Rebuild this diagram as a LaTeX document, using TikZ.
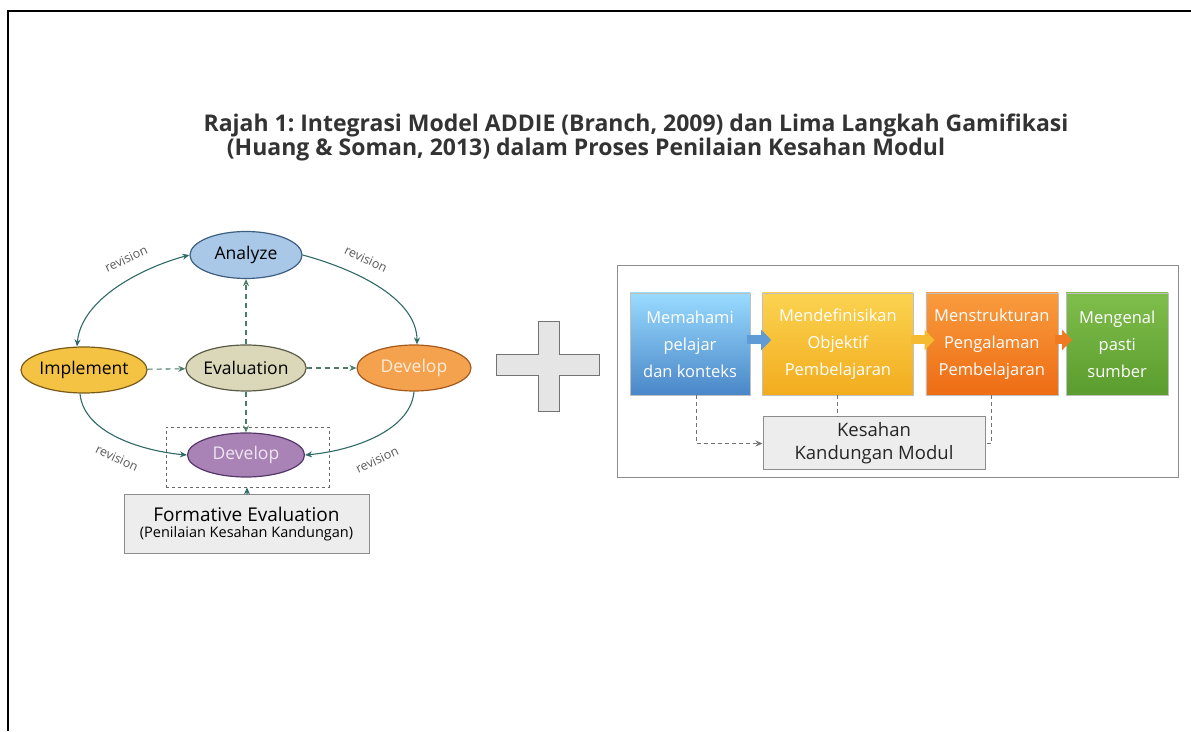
\documentclass[tikz,border=0pt]{standalone}
\usepackage{fontspec}
\setmainfont{Open Sans}
\usetikzlibrary{positioning,arrows.meta,shapes.geometric}
\definecolor{anaFill}{HTML}{A9C7E6}
\definecolor{anaDraw}{HTML}{3F5F80}
\definecolor{impFill}{HTML}{F4C343}
\definecolor{impDraw}{HTML}{7A5A18}
\definecolor{evaFill}{HTML}{DAD8B8}
\definecolor{evaDraw}{HTML}{5A5A48}
\definecolor{devFill}{HTML}{F5A24E}
\definecolor{devDraw}{HTML}{A45A1C}
\definecolor{purFill}{HTML}{A983B6}
\definecolor{purDraw}{HTML}{553668}
\definecolor{arrCol}{HTML}{2F6A66}
\definecolor{dashCol}{HTML}{4A7C66}
\frenchspacing
\tikzset{phase/.style={ellipse,draw,line width=1.2pt,inner sep=0pt,minimum width=114pt,minimum height=46pt,
		font=\fontsize{17.5}{20}\selectfont},
	 revarr/.style={draw=arrCol,line width=1.1pt,-{Stealth[length=7pt,width=6pt]}},
	 evarr/.style={draw=dashCol,line width=1.1pt,dash pattern=on 5pt off 4pt,-{Stealth[length=7pt,width=6pt]}},
	 revlabel/.style={font=\fontsize{12.5}{14}\selectfont,text=black!65,inner sep=0pt},
	 stepbox/.style={draw=black!25,minimum height=102pt,inner sep=0pt,align=center,text=white,
		font=\fontsize{16.5}{27}\selectfont},
	 blockarr/.style={line width=9pt,-{Triangle[width=20pt,length=10pt]},shorten <=-3pt,shorten >=-9pt},
	 kdash/.style={draw=black!55,line width=1pt,dash pattern=on 4pt off 3pt},
	 greybox/.style={draw=black!45,fill=black!7,line width=1pt,align=center,inner sep=0pt},
	 title/.style={anchor=base,text=black!80,font=\fontsize{23}{26}\selectfont\bfseries},
	 node distance = 12pt
	 }
\begin{document}
\begin{tikzpicture}[x=1pt,y=1pt]
	\useasboundingbox (0,0) rectangle (1191,731);
	\draw[line width=2.5pt] (1191,720) -- (8,720) -- (8,0);

	\node[title] (t1) at (636,599) {Rajah 1: Integrasi Model ADDIE (Branch, 2009) dan Lima Langkah Gamifikasi};
	\node[title] (t2) at (586,575) {(Huang \& Soman, 2013) dalam Proses Penilaian Kesahan Modul};

	% ADDIE
	\node[phase,fill=anaFill,draw=anaDraw,minimum width=112pt,minimum height=47pt] (ana) at (246,476) {Analyze};
	\node[phase,fill=impFill,draw=impDraw,minimum width=118pt] (imp) at (84,361) {Implement};
	\node[phase,fill=evaFill,draw=evaDraw,minimum width=112pt] (eva) at (246,363) {Evaluation};
	\node[phase,fill=devFill,draw=devDraw,text=orange!15] (dev) at (414,363) {Develop};
	\node[phase,fill=purFill,draw=purDraw,text=purFill!20,minimum width=117pt,minimum height=44pt] (pur) at (246,276) {Develop};
	\node[draw=black!60,dashed,line width=0.9pt,minimum width=163pt,minimum height=60pt] (fe) at (247.5,274) {};
	\node[greybox,minimum width=245pt,minimum height=59pt] (form) at (246.5,206.5)
		{\fontsize{19}{24}\selectfont Formative Evaluation\\[4pt]\fontsize{14.5}{16}\selectfont (Penilaian Kesahan Kandungan)};

	\draw[revarr,{Stealth[length=7pt,width=6pt]}-{Stealth[length=7pt,width=6pt]}] ([xshift=-7pt]imp.north) to[out=85,in=195,looseness=0.85] (ana.west);
	\draw[revarr] (ana.east) to[out=-15,in=90,looseness=0.85] ([xshift=3pt]dev.north);
	\draw[revarr] ([xshift=-4pt]imp.south) to[out=-85,in=175,looseness=0.85] (pur.west);
	\draw[revarr] (dev.south) to[out=-95,in=5,looseness=0.85] (pur.east);
	\node[revlabel,rotate=25] (r1) at (126,472) {revision};
	\node[revlabel,rotate=-25] (r2) at (366,472) {revision};
	\node[revlabel,rotate=-25] (r3) at (117,273) {revision};
	\node[revlabel,rotate=25] (r4) at (377,271) {revision};

	\draw[evarr] (eva) -- (ana);
	\draw[evarr] (eva) -- (pur);
	\draw[evarr] (imp) -- (eva);
	\draw[evarr] (eva) -- (dev);
	\draw[revarr] (form) -- (fe);

	% plus
	\draw[draw=black!55,fill=black!10,line width=1pt] (538,409) -- (559,409) -- (559,376) -- (599,376) -- (599,355)
		-- (559,355) -- (559,319) -- (538,319) -- (538,355) -- (496,355) -- (496,376) -- (538,376) -- cycle;

	% gamifikasi
	\node[draw=black!45,line width=1pt,minimum width=561pt,minimum height=212pt] (gam) at (897.5,359) {};
	\node[stepbox,top color=blue!35!cyan!40!white,bottom color={rgb,255:red,74;green,134;blue,200},minimum width=120pt] (s1) at (690,387) {Memahami\\pelajar\\dan konteks};
	\node[stepbox,top color={rgb,255:red,251;green,211;blue,80},bottom color={rgb,255:red,242;green,172;blue,30},minimum width=151pt] (s2) [right=of s1] {Mendefinisikan\\Objektif\\Pembelajaran};
	\node[stepbox,top color={rgb,255:red,248;green,156;blue,62},bottom color={rgb,255:red,238;green,108;blue,20},minimum width=132pt] (s3) [right=of s2] {Menstrukturan\\Pengalaman\\Pembelajaran};
	\node[stepbox,top color={rgb,255:red,128;green,190;blue,76},bottom color={rgb,255:red,90;green,156;blue,46},minimum width=102pt] (s4) [right=8pt of s3] {Mengenal\\pasti\\sumber};
	\node[greybox,font=\fontsize{18.5}{23}\selectfont,text=black!85,minimum width=222pt,minimum height=53pt] (kes) at (874,287.5) {Kesahan\\Kandungan Modul};

	\draw[blockarr,draw={rgb,255:red,96;green,155;blue,214}] ([yshift=4pt]s1.east) -- ([yshift=4pt]s2.west);
	\draw[blockarr,draw={rgb,255:red,245;green,186;blue,50}] ([yshift=4pt]s2.east) -- ([yshift=4pt]s3.west);
	\draw[blockarr,draw={rgb,255:red,240;green,122;blue,34},shorten >=-6pt] ([yshift=4pt]s3.east) -- ([yshift=4pt]s4.west);

	\draw[kdash,-{Stealth[length=7pt,width=6pt]}] ([xshift=6pt]s1.south) |- (kes.west);
	\draw[kdash] (s2.south) -- (s2.south |- kes.north);
	\draw[kdash] (s3.south) |- (kes.east);
\end{tikzpicture}
\end{document}
